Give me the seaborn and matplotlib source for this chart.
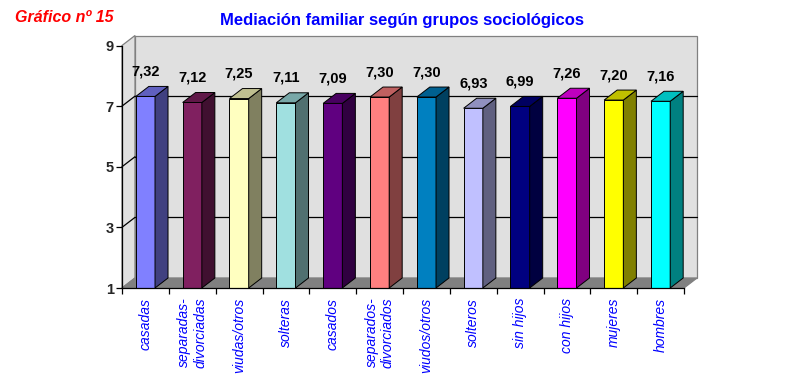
import numpy as np
import matplotlib
matplotlib.use("Agg")
import matplotlib.pyplot as plt
import matplotlib.colors as mcolors
from matplotlib.patches import Polygon
from matplotlib.ticker import FixedLocator
import seaborn as sns

# Data
categories = ["casadas", "separadas-divorciadas", "viudas/otros", "solteras",
              "casados", "separados-divorciados", "viudos/otros", "solteros",
              "sin hijos", "con hijos", "mujeres", "hombres"]
tick_labels = ["casadas", "separadas-\ndivorciadas", "viudas/otros", "solteras",
               "casados", "separados-\ndivorciados", "viudos/otros", "solteros",
               "sin hijos", "con hijos", "mujeres", "hombres"]
values = [7.32, 7.12, 7.25, 7.11, 7.09, 7.30, 7.30, 6.93, 6.99, 7.26, 7.20, 7.16]
value_labels = ["7,32", "7,12", "7,25", "7,11", "7,09", "7,30",
                "7,30", "6,93", "6,99", "7,26", "7,20", "7,16"]
front_colors = ["#8080FF", "#802060", "#FFFFC0", "#A0E0E0", "#600080", "#FF8080",
                "#0080C0", "#C0C0FF", "#000080", "#FF00FF", "#FFFF00", "#00FFFF"]
y_ticks = [1, 3, 5, 7, 9]

sns.set_style("white")
plt.rcParams["font.family"] = ["Liberation Sans", "DejaVu Sans"]

fig = plt.figure(figsize=(8.01, 3.81), dpi=100)
W, H = 801, 381
ax = fig.add_axes([122 / W, 1 - 288 / H, (684 - 122) / W, (288 - 45.5) / H])
ax.patch.set_visible(False)

sns.barplot(x=categories, y=values, hue=categories, palette=front_colors,
            legend=False, width=0.41, edgecolor="black", linewidth=0.7,
            saturation=1, ax=ax, zorder=3)

ax.set_xlim(-0.5, len(categories) - 0.5)
ax.set_ylim(1, 9)
x0, x1 = ax.get_xlim()
y0, y1 = ax.get_ylim()

# depth offset of the 3D box, in data units
dx = 13 / ((684 - 122) / len(categories))
dy = 10 / ((288 - 45.5) / 8)

wall = "#E0E0E0"
edge = "#808080"
# back wall
ax.add_patch(Polygon([(x0 + dx, y0 + dy), (x1 + dx, y0 + dy), (x1 + dx, y1 + dy), (x0 + dx, y1 + dy)],
                     closed=True, facecolor=wall, edgecolor=edge, lw=0.9, clip_on=False, zorder=0.2))
# left wall
ax.add_patch(Polygon([(x0, y0), (x0 + dx, y0 + dy), (x0 + dx, y1 + dy), (x0, y1)],
                     closed=True, facecolor=wall, edgecolor=edge, lw=0.9, clip_on=False, zorder=0.2))
# floor
ax.add_patch(Polygon([(x0, y0), (x1, y0), (x1 + dx, y0 + dy), (x0 + dx, y0 + dy)],
                     closed=True, facecolor="#808080", edgecolor=edge, lw=0.9, clip_on=False, zorder=0.3))
# gridlines on back and left wall
for gy in y_ticks[1:-1]:
    ax.plot([x0 + dx, x1 + dx], [gy + dy, gy + dy], color="black", lw=0.9, clip_on=False, zorder=0.5)
    ax.plot([x0, x0 + dx], [gy, gy + dy], color="black", lw=0.9, clip_on=False, zorder=0.5)

# side and top faces of every bar, built from the seaborn patches
for bar, col, lab in zip(list(ax.patches)[:len(values)], front_colors, value_labels):
    bx, bw, top = bar.get_x(), bar.get_width(), bar.get_height()
    rgb = np.array(mcolors.to_rgb(col))
    side = Polygon([(bx + bw, y0), (bx + bw + dx, y0 + dy), (bx + bw + dx, top + dy), (bx + bw, top)],
                   closed=True, facecolor=rgb * 0.5, edgecolor="black", lw=0.7, zorder=3)
    cap = Polygon([(bx, top), (bx + dx, top + dy), (bx + bw + dx, top + dy), (bx + bw, top)],
                  closed=True, facecolor=rgb * 0.75, edgecolor="black", lw=0.7, zorder=3)
    ax.add_patch(side)
    ax.add_patch(cap)
    ax.annotate(lab, (bx + bw / 2, top), xytext=(0, 15), textcoords="offset points",
                ha="center", va="baseline", fontsize=10.5, fontweight="bold", color="black")

for s in ["top", "right"]:
    ax.spines[s].set_visible(False)
for s in ["left", "bottom"]:
    ax.spines[s].set_color("black")
    ax.spines[s].set_linewidth(0.9)
    ax.spines[s].set_zorder(4)

ax.set_yticks(y_ticks)
ax.set_yticklabels([str(t) for t in y_ticks], fontsize=10.5, fontweight="bold")
ax.tick_params(axis="y", direction="out", length=4, width=0.9, pad=2, color="black", left=True)

ax.set_xticks(range(len(categories)))
ax.set_xticklabels(tick_labels, rotation=90, va="top", ha="center", fontsize=10,
                   style="italic", color="#0000FF", multialignment="right")
ax.tick_params(axis="x", which="major", length=0, pad=7)
ax.xaxis.set_minor_locator(FixedLocator(np.arange(x0, x1 + 0.01, 1.0)))
ax.tick_params(axis="x", which="minor", direction="out", length=4, width=0.9, color="black", bottom=True)
ax.set_xlabel("")
ax.set_ylabel("")

fig.text(402 / W, 1 - 25 / H, "Mediación familiar según grupos sociológicos", ha="center",
         va="baseline", fontsize=12, fontweight="bold", color="#0000FF")
fig.text(15 / W, 1 - 22 / H, "Gráfico nº 15", ha="left", va="baseline", fontsize=11.5,
         fontweight="bold", style="italic", color="#FF0000")

fig.savefig("out.png", dpi=100)
